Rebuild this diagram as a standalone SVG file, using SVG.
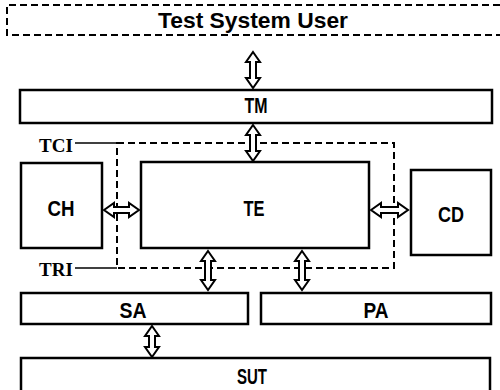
<svg xmlns="http://www.w3.org/2000/svg" width="500" height="390" viewBox="0 0 500 390">
<style>
.box{fill:#fff;stroke:#000;stroke-width:2.5}
.dash{fill:none;stroke:#000;stroke-width:2;stroke-dasharray:7,4}
.lead{fill:none;stroke:#000;stroke-width:1.5}
.arr{fill:#fff;stroke:#000;stroke-width:2;stroke-linejoin:miter}
.lbl{font-family:"Liberation Sans",Arial,sans-serif;font-weight:bold;font-size:22px;text-anchor:middle;fill:#000}
.ser{font-family:"Liberation Serif",serif;font-size:19px;font-weight:bold;fill:#000}
</style>
<rect width="500" height="390" fill="#fff"/>
<g id="user">
<path class="dash" d="M500,5 H7 V35 H500"/>
<text class="lbl" x="253" y="28" font-size="19" textLength="190" lengthAdjust="spacingAndGlyphs">Test System User</text>
</g>
<g id="tm">
<rect class="box" x="20" y="90" width="472" height="33"/>
<text class="lbl" x="256" y="113" textLength="23" lengthAdjust="spacingAndGlyphs">TM</text>
</g>
<g id="ch">
<rect class="box" x="21" y="163" width="81" height="85"/>
<text class="lbl" x="61" y="216" textLength="27" lengthAdjust="spacingAndGlyphs">CH</text>
</g>
<g id="te">
<rect class="box" x="141" y="162" width="228" height="86"/>
<text class="lbl" x="254" y="216" textLength="21" lengthAdjust="spacingAndGlyphs">TE</text>
</g>
<g id="cd">
<rect class="box" x="411" y="170" width="80" height="85"/>
<text class="lbl" x="451" y="222" textLength="26" lengthAdjust="spacingAndGlyphs">CD</text>
</g>
<g id="sa">
<rect class="box" x="21" y="293" width="227" height="31"/>
<text class="lbl" x="133" y="318" textLength="27" lengthAdjust="spacingAndGlyphs">SA</text>
</g>
<g id="pa">
<rect class="box" x="261" y="293" width="230" height="31"/>
<text class="lbl" x="376" y="318" textLength="25" lengthAdjust="spacingAndGlyphs">PA</text>
</g>
<g id="sut">
<path class="box" d="M21,392 V358 H490 V392"/>
<text class="lbl" x="252" y="384" textLength="30" lengthAdjust="spacingAndGlyphs">SUT</text>
</g>
<g id="interfaces">
<text class="ser" x="39" y="152">TCI</text>
<text class="ser" x="39" y="276">TRI</text>
<line class="lead" x1="75" y1="143" x2="117" y2="143"/>
<line class="lead" x1="75" y1="268" x2="117" y2="268"/>
<rect class="dash" x="117" y="143" width="277" height="125"/>
</g>
<g id="connectors">
<path class="arr" d="M253,52 L260,62 L256,62 L256,78 L260,78 L253,88 L246,78 L250,78 L250,62 L246,62 Z"/>
<path class="arr" d="M253,125 L260,135 L256,135 L256,151 L260,151 L253,161 L246,151 L250,151 L250,135 L246,135 Z"/>
<path class="arr" d="M208,251 L215,261 L211,261 L211,280 L215,280 L208,290 L201,280 L205,280 L205,261 L201,261 Z"/>
<path class="arr" d="M302,251 L309,261 L305,261 L305,280 L309,280 L302,290 L295,280 L299,280 L299,261 L295,261 Z"/>
<path class="arr" d="M152,326 L159,336 L155,336 L155,347 L159,347 L152,357 L145,347 L149,347 L149,336 L145,336 Z"/>
<path class="arr" d="M104,210 L114,203 L114,207 L129,207 L129,203 L139,210 L129,217 L129,213 L114,213 L114,217 Z"/>
<path class="arr" d="M371,210 L381,203 L381,207 L398,207 L398,203 L408,210 L398,217 L398,213 L381,213 L381,217 Z"/>
</g>
</svg>
